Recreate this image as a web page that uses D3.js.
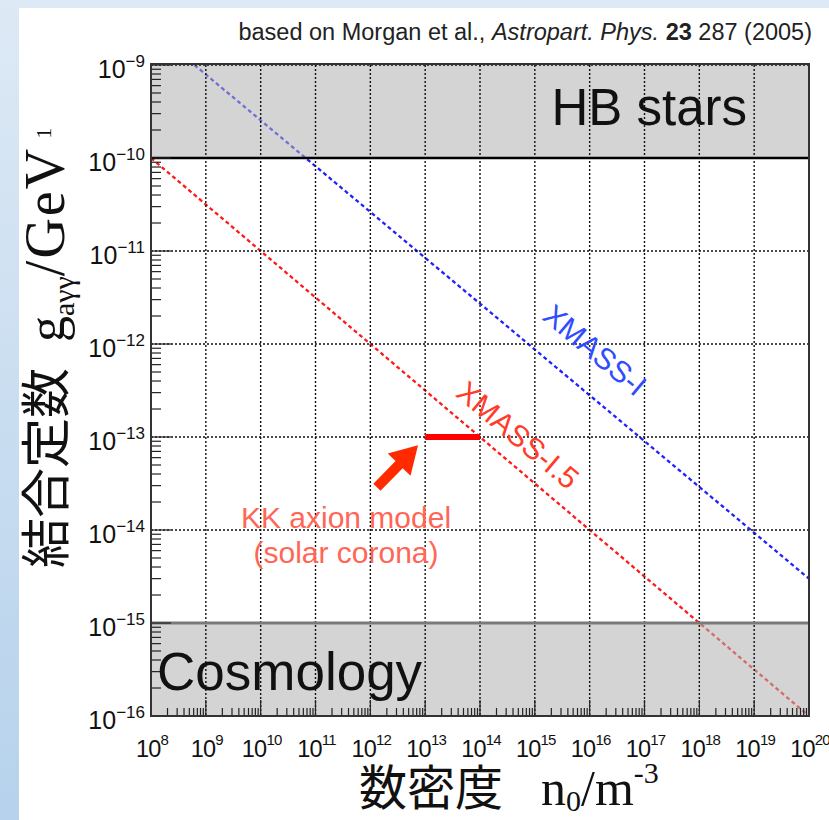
<!DOCTYPE html>
<html>
<head>
<meta charset="utf-8">
<script src="https://cdn.jsdelivr.net/npm/d3@7"></script>
<style>
  html, body { margin: 0; padding: 0; background: #ffffff; }
  svg { display: block; }
</style>
</head>
<body>
<svg id="chart" width="829" height="820"></svg>
<script>
// ---- data -------------------------------------------------------------
// axis decades (exponents of 10)
const xDecades = [8, 9, 10, 11, 12, 13, 14, 15, 16, 17, 18, 19, 20];
const yDecades = [-9, -10, -11, -12, -13, -14, -15, -16];

// sensitivity lines: number density n0 [m^-3] vs coupling g [GeV^-1]
const xmass1N = [6.2e8, 1e20];
const xmass1G = [1e-9, 3.0e-15];
const xmass15N = [1e8, 1e20];
const xmass15G = [1e-10, 1e-16];

// KK axion model (solar corona) segment
const kkN = [1e13, 1e14];
const kkG = [1e-13, 1e-13];

// arrow pointing at the KK segment (tail, tip)
const arrowN = [Math.pow(10, 12.12), Math.pow(10, 12.87)];
const arrowG = [Math.pow(10, -13.54), Math.pow(10, -13.09)];

// excluded regions
const hbBand = [1e-9, 1e-10];
const cosmoBand = [1e-15, 1e-16];

// ---- scales -----------------------------------------------------------
const svg = d3.select("#chart");
const x = d3.scaleLog().domain([1e8, 1e20]).range([151, 809]);
const y = d3.scaleLog().domain([1e-9, 1e-16]).range([65, 716]);
const [x0, x1] = x.range();
const [y0, y1] = y.range();

// ---- slide background ---------------------------------------------------
const defs = svg.append("defs");
const grad = defs.append("linearGradient").attr("id", "strip")
  .attr("x1", 0).attr("y1", 0).attr("x2", 0).attr("y2", 1);
grad.append("stop").attr("offset", "0%").attr("stop-color", "#dde9f5");
grad.append("stop").attr("offset", "100%").attr("stop-color", "#b6d2ec");
svg.append("rect").attr("x", 0).attr("y", 0).attr("width", 829).attr("height", 820).attr("fill", "url(#strip)");
svg.append("rect").attr("x", 0).attr("y", 0).attr("width", 829).attr("height", 8).attr("fill", "#dde9f5");
svg.append("rect").attr("x", 19).attr("y", 8).attr("width", 810).attr("height", 812).attr("fill", "#ffffff");

defs.append("clipPath").attr("id", "plotClip").append("rect")
  .attr("x", x0).attr("y", y0).attr("width", x1 - x0).attr("height", y1 - y0);

const plot = svg.append("g").attr("clip-path", "url(#plotClip)");

// ---- sensitivity lines ---------------------------------------------------
const line = d3.line().x(d => x(d[0])).y(d => y(d[1]));
plot.append("path")
  .attr("d", line(d3.zip(xmass1N, xmass1G)))
  .attr("fill", "none").attr("stroke", "#2222ff").attr("stroke-width", 2.3)
  .attr("stroke-dasharray", "4,3");
plot.append("path")
  .attr("d", line(d3.zip(xmass15N, xmass15G)))
  .attr("fill", "none").attr("stroke", "#ff1a1a").attr("stroke-width", 2.3)
  .attr("stroke-dasharray", "4,3");

// ---- excluded bands (translucent grey over the lines) ----------------------
[hbBand, cosmoBand].forEach(b => {
  plot.append("rect")
    .attr("x", x0).attr("width", x1 - x0)
    .attr("y", y(b[0])).attr("height", y(b[1]) - y(b[0]))
    .attr("fill", "#b0b0b0").attr("fill-opacity", 0.55);
});

// ---- grid -----------------------------------------------------------------
const grid = svg.append("g").attr("stroke", "#111").attr("stroke-width", 1.4)
  .attr("stroke-dasharray", "2,2");
xDecades.forEach(e => {
  const xv = x(Math.pow(10, e));
  grid.append("line").attr("x1", xv).attr("x2", xv).attr("y1", y0).attr("y2", y1);
});
yDecades.forEach(e => {
  const yv = y(Math.pow(10, e));
  grid.append("line").attr("x1", x0).attr("x2", x1).attr("y1", yv).attr("y2", yv);
});

// band edges
svg.append("line").attr("x1", x0).attr("x2", x1)
  .attr("y1", y(hbBand[1])).attr("y2", y(hbBand[1]))
  .attr("stroke", "#000").attr("stroke-width", 2.6);
svg.append("line").attr("x1", x0).attr("x2", x1)
  .attr("y1", y(cosmoBand[0])).attr("y2", y(cosmoBand[0]))
  .attr("stroke", "#7a7a7a").attr("stroke-width", 3);

// ---- ticks (inside the frame) ------------------------------------------------
const ticks = svg.append("g").attr("stroke", "#222").attr("stroke-width", 1.2);
for (let e = -16; e <= -9; e++) {
  const yv = y(Math.pow(10, e));
  ticks.append("line").attr("x1", x0).attr("x2", x0 + 20).attr("y1", yv).attr("y2", yv);
  if (e < -9) {
    for (let m = 2; m <= 9; m++) {
      const ym = y(m * Math.pow(10, e));
      ticks.append("line").attr("x1", x0).attr("x2", x0 + 10).attr("y1", ym).attr("y2", ym);
    }
  }
}
for (let e = 8; e <= 20; e++) {
  const xv = x(Math.pow(10, e));
  ticks.append("line").attr("x1", xv).attr("x2", xv).attr("y1", y1).attr("y2", y1 - 16);
  if (e < 20) {
    for (let m = 2; m <= 9; m++) {
      const xm = x(m * Math.pow(10, e));
      ticks.append("line").attr("x1", xm).attr("x2", xm).attr("y1", y1).attr("y2", y1 - 8);
    }
  }
}

// ---- frame ------------------------------------------------------------------
svg.append("rect").attr("x", x0).attr("y", y0 - 1).attr("width", x1 - x0).attr("height", y1 - y0 + 1)
  .attr("fill", "none").attr("stroke", "#333").attr("stroke-width", 2);

// ---- KK axion segment and arrow ------------------------------------------------
svg.append("line")
  .attr("x1", x(kkN[0])).attr("x2", x(kkN[1]))
  .attr("y1", y(kkG[0])).attr("y2", y(kkG[1]))
  .attr("stroke", "#ff0000").attr("stroke-width", 6);

(function drawArrow() {
  const tx = x(arrowN[0]), ty = y(arrowG[0]);
  const hx = x(arrowN[1]), hy = y(arrowG[1]);
  const len = Math.hypot(hx - tx, hy - ty);
  const ux = (hx - tx) / len, uy = (hy - ty) / len;
  const px = -uy, py = ux;
  const headLen = 27, headW = 16, shaftW = 5;
  const bx = hx - ux * headLen, by = hy - uy * headLen;
  const pts = [
    [tx + px * shaftW, ty + py * shaftW],
    [bx + px * shaftW, by + py * shaftW],
    [bx + px * headW, by + py * headW],
    [hx, hy],
    [bx - px * headW, by - py * headW],
    [bx - px * shaftW, by - py * shaftW],
    [tx - px * shaftW, ty - py * shaftW]
  ];
  svg.append("polygon").attr("points", pts.map(p => p.join(",")).join(" "))
    .attr("fill", "#ff2a00");
})();

// ---- text labels in the plot ---------------------------------------------------
const sans = "'Liberation Sans', Arial, Helvetica, sans-serif";
svg.append("text").attr("x", 747).attr("y", 125).attr("text-anchor", "end")
  .attr("font-family", sans).attr("font-size", 51).attr("fill", "#111").text("HB stars");
svg.append("text").attr("x", 157).attr("y", 690)
  .attr("font-family", sans).attr("font-size", 53).attr("fill", "#111").text("Cosmology");

svg.append("text").attr("x", 346).attr("y", 528).attr("text-anchor", "middle")
  .attr("font-family", sans).attr("font-size", 30).attr("fill", "#ff6655").text("KK axion model");
svg.append("text").attr("x", 346).attr("y", 563).attr("text-anchor", "middle")
  .attr("font-family", sans).attr("font-size", 30).attr("fill", "#ff6655").text("(solar corona)");

svg.append("text").attr("transform", "translate(595,350) rotate(40)")
  .attr("text-anchor", "middle").attr("dominant-baseline", "central")
  .attr("font-family", sans).attr("font-size", 30).attr("fill", "#2f4cff").text("XMASS-I");
svg.append("text").attr("transform", "translate(518,435) rotate(40)")
  .attr("text-anchor", "middle").attr("dominant-baseline", "central")
  .attr("font-family", sans).attr("font-size", 30).attr("fill", "#ff3b2a").text("XMASS-I.5");

// ---- tick labels -----------------------------------------------------------
const narrow = "'Liberation Sans Narrow', 'Liberation Sans', Arial, sans-serif";
yDecades.forEach(e => {
  const t = svg.append("text").attr("x", 145).attr("y", y(Math.pow(10, e)) + 13)
    .attr("text-anchor", "end").attr("font-family", narrow).attr("fill", "#111");
  t.append("tspan").attr("font-size", 25).text("10");
  t.append("tspan").attr("font-size", 17).attr("dy", -11).text("\u2212" + Math.abs(e));
});
xDecades.forEach(e => {
  const t = svg.append("text").attr("x", x(Math.pow(10, e)) + 1).attr("y", 757)
    .attr("text-anchor", "middle").attr("font-family", sans).attr("fill", "#111")
    .attr("letter-spacing", -0.8);
  t.append("tspan").attr("font-size", 23.5).text("10");
  t.append("tspan").attr("font-size", 15).attr("dy", -12).text(e);
});

// ---- axis titles -------------------------------------------------------------
const serif = "'Liberation Serif', 'Times New Roman', serif";
const cjk = "'Noto Sans CJK JP', 'Noto Sans CJK SC', sans-serif";

const xt = svg.append("text").attr("x", 359).attr("y", 805).attr("fill", "#111");
xt.append("tspan").attr("font-family", cjk).attr("font-size", 48).text("数密度");
xt.append("tspan").attr("font-family", serif).attr("font-size", 50).attr("dx", 38).text("n");
xt.append("tspan").attr("font-family", serif).attr("font-size", 30).attr("dy", 6).text("0");
xt.append("tspan").attr("font-family", serif).attr("font-size", 50).attr("dy", -6).text("/m");
xt.append("tspan").attr("font-family", serif).attr("font-size", 30).attr("dy", -22).text("-3");

const yt = svg.append("text").attr("transform", "translate(64,568) rotate(-90)").attr("fill", "#111");
yt.append("tspan").attr("font-family", cjk).attr("font-size", 50).text("結合定数");
yt.append("tspan").attr("font-family", serif).attr("font-size", 52).attr("dx", 26).text("g");
yt.append("tspan").attr("font-family", serif).attr("font-size", 30).attr("dy", 10).text("aγγ");
yt.append("tspan").attr("font-family", serif).attr("font-size", 56).attr("dy", -10)
  .attr("letter-spacing", 2).text("/GeV");
yt.append("tspan").attr("font-family", serif).attr("font-size", 22).attr("dx", 8).attr("dy", -13).text("1");

// ---- citation ------------------------------------------------------------------
const cite = svg.append("text").attr("x", 812).attr("y", 40).attr("text-anchor", "end")
  .attr("font-family", sans).attr("font-size", 23.5).attr("fill", "#222");
cite.append("tspan").text("based on Morgan et al., ");
cite.append("tspan").attr("font-style", "italic").text("Astropart. Phys.");
cite.append("tspan").text(" ");
cite.append("tspan").attr("font-weight", "bold").text("23");
cite.append("tspan").text(" 287 (2005)");
</script>
</body>
</html>
